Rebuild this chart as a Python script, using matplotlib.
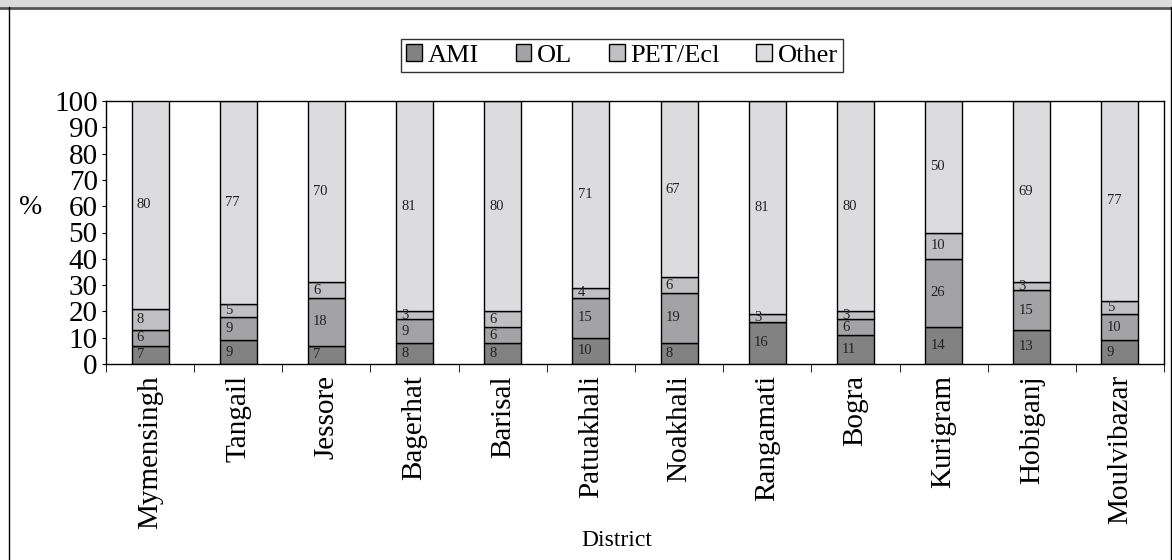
import numpy as np
import matplotlib
matplotlib.use('Agg')
import matplotlib.pyplot as plt
from matplotlib.patches import Rectangle
from matplotlib.lines import Line2D

plt.rcParams['font.family'] = ['Liberation Serif', 'DejaVu Serif']

districts = ['Mymensingh', 'Tangail', 'Jessore', 'Bagerhat', 'Barisal', 'Patuakhali',
             'Noakhali', 'Rangamati', 'Bogra', 'Kurigram', 'Hobiganj', 'Moulvibazar']
ami = [7, 9, 7, 8, 8, 10, 8, 16, 11, 14, 13, 9]
ol = [6, 9, 18, 9, 6, 15, 19, 0, 6, 26, 15, 10]
pet = [8, 5, 6, 3, 6, 4, 6, 3, 3, 10, 3, 5]
other = [80, 77, 70, 81, 80, 71, 67, 81, 80, 50, 69, 77]

series = [('AMI', ami, '#828282'), ('OL', ol, '#a3a3a5'),
          ('PET/Ecl', pet, '#c0c0c2'), ('Other', other, '#dcdcde')]

W, H = 1172, 560
fig = plt.figure(figsize=(W / 100, H / 100), dpi=100)

# frame and grey header strip
fig.patches.append(Rectangle((0, 1 - 7 / H), 1, 7 / H, transform=fig.transFigure,
                             facecolor='#dcdcdc', edgecolor='none'))
fig.lines.append(Line2D([0, 1], [1 - 7.5 / H, 1 - 7.5 / H], transform=fig.transFigure,
                        color='#555555', lw=2))
fig.lines.append(Line2D([8.5 / W, 8.5 / W], [0, 1 - 7 / H], transform=fig.transFigure,
                        color='black', lw=1))
fig.lines.append(Line2D([1170.5 / W, 1170.5 / W], [0, 1 - 7 / H], transform=fig.transFigure,
                        color='black', lw=1))

ax = fig.add_axes([106 / W, 1 - 364 / H, (1164 - 106) / W, (364 - 101) / H])

x = np.arange(len(districts))
bottom = np.zeros(len(districts))
handles = []
for name, vals, col in series:
    vals = np.array(vals, dtype=float)
    b = ax.bar(x, vals, 0.42, bottom=bottom, color=col, edgecolor='black',
               linewidth=1, label=name)
    handles.append(b)
    for xi, v, b0 in zip(x, vals, bottom):
        if v > 0:
            yc = min(b0 + v / 2, (b0 + 100) / 2)
            ax.text(xi - 0.15, yc, '%d' % v, ha='left', va='center',
                    fontsize=10.5, color='#222222')
    bottom += vals

ax.set_xlim(-0.5, len(districts) - 0.5)
ax.set_ylim(0, 100)
ax.set_yticks(np.arange(0, 101, 10))
ax.tick_params(axis='y', labelsize=21, length=3, pad=3, direction='out')
ax.set_xticks(x)
ax.set_xticklabels(districts, rotation=90, fontsize=21)
ax.tick_params(axis='x', length=0, pad=8)
ax.set_xticks(np.arange(-0.5, len(districts) + 0.5, 1), minor=True)
ax.tick_params(axis='x', which='minor', length=6, direction='out')
for s in ax.spines.values():
    s.set_linewidth(1)

fig.text(31 / W, 1 - 208 / H, '%', fontsize=20, ha='center', va='center')
fig.text(617 / W, 1 - 541 / H, 'District', fontsize=17, ha='center', va='center')

leg = fig.legend(handles=handles, loc='center', bbox_to_anchor=(622 / W, 1 - 55.5 / H),
                 ncol=4, fontsize=19, frameon=True, fancybox=False, edgecolor='black',
                 handlelength=0.6, handleheight=0.6, handletextpad=0.2,
                 columnspacing=1.4, borderpad=0.2, borderaxespad=0)
leg.get_frame().set_linewidth(1)

fig.savefig('out.png', dpi=100)
